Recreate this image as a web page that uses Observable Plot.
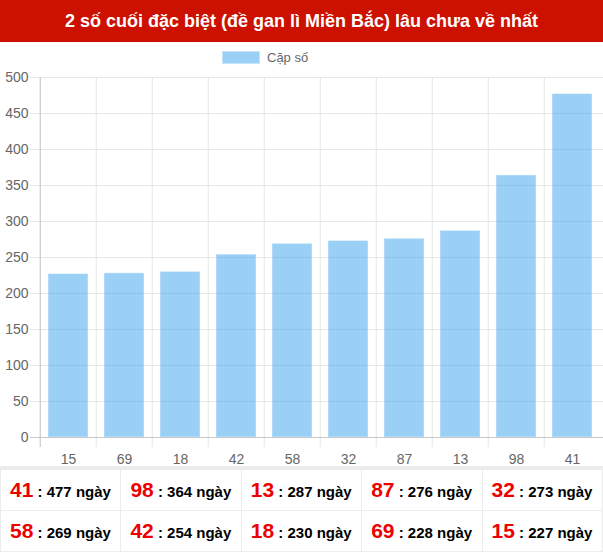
<!DOCTYPE html>
<html><head><meta charset="utf-8">
<script src="https://cdn.jsdelivr.net/npm/d3@7"></script>
<script src="https://cdn.jsdelivr.net/npm/@observablehq/plot@0.6"></script>
<style>
body{margin:0;background:#fff;font-family:"Liberation Sans",Arial,Helvetica,sans-serif;width:603px;overflow:hidden}
#title{background:#cc1100;color:#fff;font-weight:bold;font-size:18px;height:42px;line-height:42px;text-align:center}
#legend{height:30px;display:flex;align-items:center;padding-left:222px;color:#666;font-size:13px}
#legend span.box{display:inline-block;width:38px;height:13px;background:#9ad0f5;border:1px solid #c6e4fa;margin-right:7px;box-sizing:border-box}
#chart svg{display:block;max-width:none}
table{border-collapse:collapse;width:603px;table-layout:fixed;border-top:4px solid #ececec}
td{border:1px solid #ececec;height:40px;padding:0 0 0 9px;white-space:nowrap;font-weight:bold;font-size:15px;color:#000}
td b.n{color:#ee0000;font-size:21px;font-weight:bold}
</style></head>
<body>
<div id="title">2 số cuối đặc biệt (đề gan lì Miền Bắc) lâu chưa về nhất</div>
<div id="legend"><span class="box"></span>Cặp số</div>
<div id="chart"></div>
<table id="tbl"></table>
<script>
const categories = ["15","69","18","42","58","32","87","13","98","41"];
const values = [227,228,230,254,269,273,276,287,364,477];
const yTicks = [0,50,100,150,200,250,300,350,400,450,500];
const tableNums = ["41","98","13","87","32","58","42","18","69","15"];
const tableDays = [477,364,287,276,273,269,254,230,228,227];

const data = categories.map((c,i)=>({cat:c, v:values[i]}));
const W = 603, ML = 38, MR = 0;
const step = (W - ML - MR) / categories.length;

const chart = Plot.plot({
  width: W, height: 394,
  marginTop: 5, marginBottom: 29, marginLeft: ML, marginRight: MR,
  style: {fontFamily: '"Liberation Sans", Arial, sans-serif', fontSize: "14px", color: "#666", overflow: "visible"},
  x: {type: "band", domain: categories, paddingInner: 0.28, paddingOuter: 0.14, label: null},
  y: {domain: [0,500], label: null},
  marks: [
    Plot.ruleY(yTicks.slice(1), {y: d=>d, stroke: "#e6e6e6", insetLeft: -8}),
    Plot.ruleX(categories, {x: d=>d, dx: -step/2, stroke: "#e6e6e6", insetBottom: -10}),
    Plot.ruleX([categories[0]], {x: d=>d, dx: -step/2, stroke: "#c8c8c8", insetBottom: -10}),
    Plot.barY(data, {x: "cat", y: "v", fill: "rgba(54,162,235,0.5)", stroke: "rgba(255,255,255,0.45)", strokeWidth: 1}),
    Plot.ruleY([0], {stroke: "#c8c8c8", insetLeft: -8}),
    Plot.axisY({ticks: yTicks, tickSize: 0, tickPadding: 10, fill: "#666", fontSize: 14}),
    Plot.axisX({tickSize: 0, tickPadding: 17, fill: "#666", fontSize: 14})
  ]
});
document.getElementById("chart").appendChild(chart);

const tbl = document.getElementById("tbl");
for (let r = 0; r < 2; r++) {
  const tr = document.createElement("tr");
  for (let c = 0; c < 5; c++) {
    const i = r*5 + c;
    const td = document.createElement("td");
    td.innerHTML = `<b class="n">${tableNums[i]}</b> : ${tableDays[i]} ngày`;
    tr.appendChild(td);
  }
  tbl.appendChild(tr);
}
</script>
</body></html>
